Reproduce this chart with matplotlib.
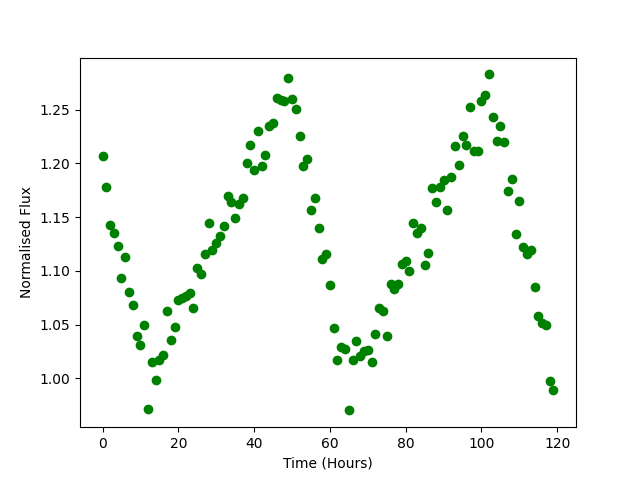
import matplotlib
matplotlib.use("Agg")
import matplotlib.pyplot as plt
import numpy as np

hours = list(range(120))
flux = [
    1.207, 1.178, 1.143, 1.135, 1.123, 1.093, 1.113, 1.080, 1.068, 1.039,
    1.031, 1.050, 0.971, 1.015, 0.998, 1.017, 1.022, 1.063, 1.036, 1.048,
    1.073, 1.075, 1.077, 1.079, 1.065, 1.103, 1.097, 1.116, 1.145, 1.119,
    1.126, 1.132, 1.142, 1.170, 1.164, 1.149, 1.162, 1.168, 1.200, 1.217,
    1.194, 1.230, 1.198, 1.208, 1.235, 1.238, 1.261, 1.259, 1.258, 1.280,
    1.260, 1.251, 1.226, 1.198, 1.204, 1.157, 1.168, 1.140, 1.111, 1.116,
    1.087, 1.047, 1.017, 1.029, 1.027, 0.970, 1.017, 1.035, 1.021, 1.025,
    1.026, 1.015, 1.041, 1.065, 1.063, 1.039, 1.088, 1.083, 1.088, 1.106,
    1.109, 1.100, 1.145, 1.135, 1.140, 1.105, 1.117, 1.177, 1.164, 1.178,
    1.185, 1.157, 1.187, 1.216, 1.199, 1.226, 1.217, 1.253, 1.212, 1.212,
    1.258, 1.264, 1.283, 1.243, 1.221, 1.235, 1.220, 1.174, 1.186, 1.134,
    1.165, 1.122, 1.116, 1.119, 1.085, 1.058, 1.051, 1.050, 0.997, 0.989,
]

fig, ax = plt.subplots(figsize=(6.4, 4.8), dpi=100)
ax.plot(hours, flux, 'o', color='green')
ax.set_xlabel('Time (Hours)')
ax.set_ylabel('Normalised Flux')
fig.savefig('out.png')
